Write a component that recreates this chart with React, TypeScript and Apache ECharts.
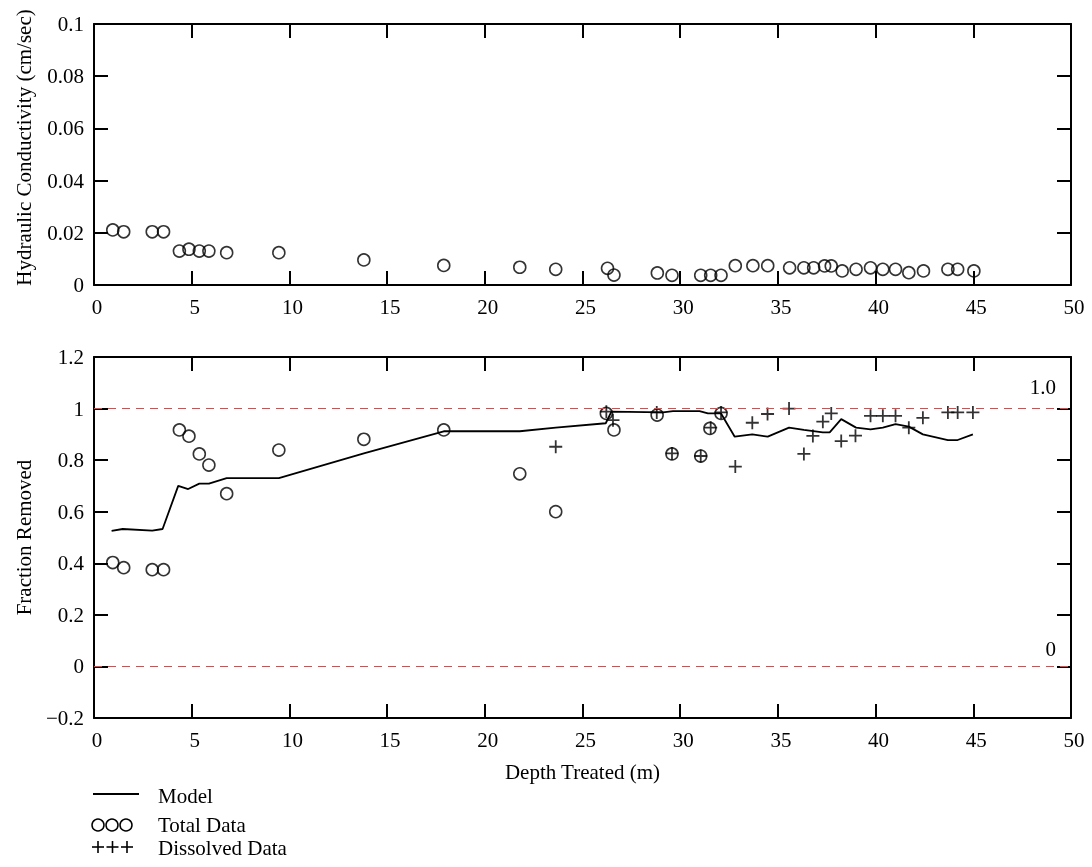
import React, { useEffect, useRef } from "react";
import * as echarts from "echarts";

// ---- Data ----
const topDepth = [0.96, 1.52, 2.98, 3.56, 4.37, 4.86, 5.39, 5.88, 6.79, 9.46, 13.81, 17.9, 21.79, 23.63, 26.28, 26.61, 28.83, 29.58, 31.05, 31.56, 32.09, 32.82, 33.72, 34.48, 35.6, 36.33, 36.83, 37.39, 37.73, 38.29, 39.0, 39.74, 40.37, 41.02, 41.7, 42.45, 43.7, 44.2, 45.03];
const conductivity = [0.0211, 0.0204, 0.0204, 0.0204, 0.013, 0.0137, 0.013, 0.013, 0.0124, 0.0124, 0.0096, 0.0075, 0.0068, 0.006, 0.0064, 0.0038, 0.0046, 0.0037, 0.0037, 0.0037, 0.0037, 0.0074, 0.0074, 0.0074, 0.0066, 0.0066, 0.0066, 0.0073, 0.0073, 0.0054, 0.006, 0.0066, 0.006, 0.006, 0.0047, 0.0054, 0.006, 0.006, 0.0054];

const totalDepth = [0.96, 1.52, 2.98, 3.56, 4.37, 4.86, 5.39, 5.88, 6.79, 9.46, 13.81, 17.9, 21.79, 23.63, 26.22, 26.61, 28.82, 29.58, 31.05, 31.52, 32.09];
const totalFrac = [0.403, 0.383, 0.375, 0.375, 0.917, 0.893, 0.824, 0.781, 0.67, 0.839, 0.881, 0.917, 0.747, 0.6, 0.981, 0.917, 0.975, 0.824, 0.816, 0.923, 0.981];

const dissDepth = [23.63, 26.22, 26.56, 28.8, 29.58, 31.05, 31.56, 32.09, 32.82, 33.69, 34.47, 35.57, 36.33, 36.79, 37.3, 37.73, 38.24, 38.97, 39.74, 40.37, 41.02, 41.7, 42.42, 43.7, 44.2, 44.98];
const dissFrac = [0.852, 0.988, 0.955, 0.985, 0.826, 0.816, 0.926, 0.985, 0.775, 0.945, 0.979, 1.0, 0.824, 0.894, 0.949, 0.981, 0.874, 0.895, 0.972, 0.972, 0.972, 0.926, 0.964, 0.985, 0.985, 0.985];

const modelDepth = [0.9, 1.47, 2.98, 3.51, 4.31, 4.82, 5.39, 5.88, 6.79, 9.46, 13.81, 17.9, 21.79, 23.63, 26.19, 26.48, 29.12, 29.63, 30.99, 31.42, 32.09, 32.79, 33.69, 34.48, 35.57, 36.33, 37.3, 37.65, 38.24, 39.0, 39.74, 40.37, 41.02, 41.7, 42.42, 43.7, 44.2, 44.98];
const modelFrac = [0.526, 0.533, 0.527, 0.533, 0.7, 0.688, 0.709, 0.709, 0.73, 0.73, 0.826, 0.912, 0.912, 0.926, 0.943, 0.988, 0.985, 0.99, 0.99, 0.981, 0.981, 0.891, 0.9, 0.891, 0.926, 0.917, 0.908, 0.908, 0.959, 0.926, 0.919, 0.926, 0.94, 0.93, 0.9, 0.878, 0.878, 0.9];

const refLines = [
  { value: 1, label: "1.0" },
  { value: 0, label: "0" },
];

const legendLabels = ["Model", "Total Data", "Dissolved Data"];

const FONT = "Liberation Serif";
const PLUS = "path://M5.6,0h1.8v5.6h5.6v1.8h-5.6v5.6h-1.8v-5.6h-5.6v-1.8h5.6z";

const zip = (a: number[], b: number[]) => a.map((v, i) => [v, b[i]]);

const mkLine = () => ({ show: true, onZero: false, lineStyle: { color: "#000", width: 2 } });
const mkTick = () => ({ show: true, inside: true, length: 14, lineStyle: { color: "#000", width: 2 } });
const mkLbl = () => ({ color: "#000", fontFamily: FONT, fontSize: 21 });

export default function App() {
  const ref = useRef<HTMLDivElement>(null);
  useEffect(() => {
    if (!ref.current) return;
    const chart = echarts.init(ref.current, null, { renderer: "svg" });
    const xAx = (gridIndex: number, position: string, extra: any) => ({
      type: "value", gridIndex, position, min: 0, max: 50, interval: 5,
      splitLine: { show: false }, axisLine: mkLine(), axisTick: mkTick(), ...extra,
    });
    const yAx = (gridIndex: number, position: string, min: number, max: number, interval: number, extra: any) => ({
      type: "value", gridIndex, position, min, max, interval,
      splitLine: { show: false }, axisLine: mkLine(), axisTick: mkTick(), ...extra,
    });
    const option: any = {
      animation: false,
      grid: [
        { left: 94, right: 21, top: 24, height: 261 },
        { left: 94, right: 21, top: 357, height: 361 },
      ],
      xAxis: [
        xAx(0, "bottom", { axisLabel: { ...mkLbl(), margin: 11, padding: [0, 0, 0, 6] } }),
        xAx(0, "top", { axisLabel: { show: false } }),
        xAx(1, "bottom", {
          axisLabel: { ...mkLbl(), margin: 11, padding: [0, 0, 0, 6] },
          name: "Depth Treated (m)", nameLocation: "middle", nameGap: 43,
          nameTextStyle: mkLbl(),
        }),
        xAx(1, "top", { axisLabel: { show: false } }),
      ],
      yAxis: [
        yAx(0, "left", 0, 0.1, 0.02, {
          axisLabel: { ...mkLbl(), margin: 10, padding: [7, 0, 0, 0] },
          name: "Hydraulic Conductivity (cm/sec)", nameLocation: "middle", nameGap: 60,
          nameTextStyle: { ...mkLbl(), padding: [0, 0, 0, 14] },
        }),
        yAx(0, "right", 0, 0.1, 0.02, { axisLabel: { show: false } }),
        yAx(1, "left", -0.2, 1.2, 0.2, {
          axisLabel: {
            ...mkLbl(), margin: 10, padding: [7, 0, 0, 0],
            formatter: (v: number) => {
              const r = Number(v.toFixed(2));
              return r < 0 ? "\u2212" + String(Math.abs(r)) : String(r);
            },
          },
          name: "Fraction Removed", nameLocation: "middle", nameGap: 60,
          nameTextStyle: mkLbl(),
        }),
        yAx(1, "right", -0.2, 1.2, 0.2, { axisLabel: { show: false } }),
      ],
      series: [
        {
          type: "scatter", xAxisIndex: 0, yAxisIndex: 0,
          data: zip(topDepth, conductivity),
          symbol: "circle", symbolSize: 12,
          itemStyle: { color: "transparent", borderColor: "#000", borderWidth: 1.6 },
        },
        {
          type: "line", xAxisIndex: 2, yAxisIndex: 2,
          data: zip(modelDepth, modelFrac),
          showSymbol: false, symbol: "none",
          lineStyle: { color: "#000", width: 1.8 },
          markLine: {
            silent: true, symbol: ["none", "none"],
            lineStyle: { color: "#ff3b3b", width: 1.2, type: [8, 6] },
            data: refLines.map((r) => ({
              yAxis: r.value,
              label: {
                show: true, position: "insideEndTop", formatter: r.label,
                distance: r.value === 1 ? [15, 11] : [15, 7],
                color: "#000", fontFamily: FONT, fontSize: 21,
              },
            })),
          },
        },
        {
          type: "scatter", xAxisIndex: 2, yAxisIndex: 2,
          data: zip(totalDepth, totalFrac),
          symbol: "circle", symbolSize: 12,
          itemStyle: { color: "transparent", borderColor: "#000", borderWidth: 1.6 },
        },
        {
          type: "scatter", xAxisIndex: 2, yAxisIndex: 2,
          data: zip(dissDepth, dissFrac),
          symbol: PLUS, symbolSize: 13,
          itemStyle: { color: "#000" },
        },
      ],
      graphic: [
        { type: "line", shape: { x1: 93, y1: 794, x2: 139, y2: 794 }, style: { stroke: "#000", lineWidth: 2 } },
        ...[98, 112, 126].map((cx) => ({
          type: "circle", shape: { cx, cy: 825, r: 6 },
          style: { fill: "none", stroke: "#000", lineWidth: 1.5 },
        })),
        ...[98, 112.5, 127].flatMap((cx) => [
          { type: "line", shape: { x1: cx - 6, y1: 847, x2: cx + 6, y2: 847 }, style: { stroke: "#000", lineWidth: 1.6 } },
          { type: "line", shape: { x1: cx, y1: 841, x2: cx, y2: 853 }, style: { stroke: "#000", lineWidth: 1.6 } },
        ]),
        ...legendLabels.map((t, i) => ({
          type: "text", x: 158, y: [796, 825, 848][i],
          style: { text: t, fill: "#000", font: `21px "${FONT}"`, textVerticalAlign: "middle", verticalAlign: "middle" },
        })),
      ],
    };
    chart.setOption(option);
    return () => chart.dispose();
  }, []);
  return <div ref={ref} style={{ position: "fixed", left: 0, top: 0, width: 1092, height: 867 }} />;
}
